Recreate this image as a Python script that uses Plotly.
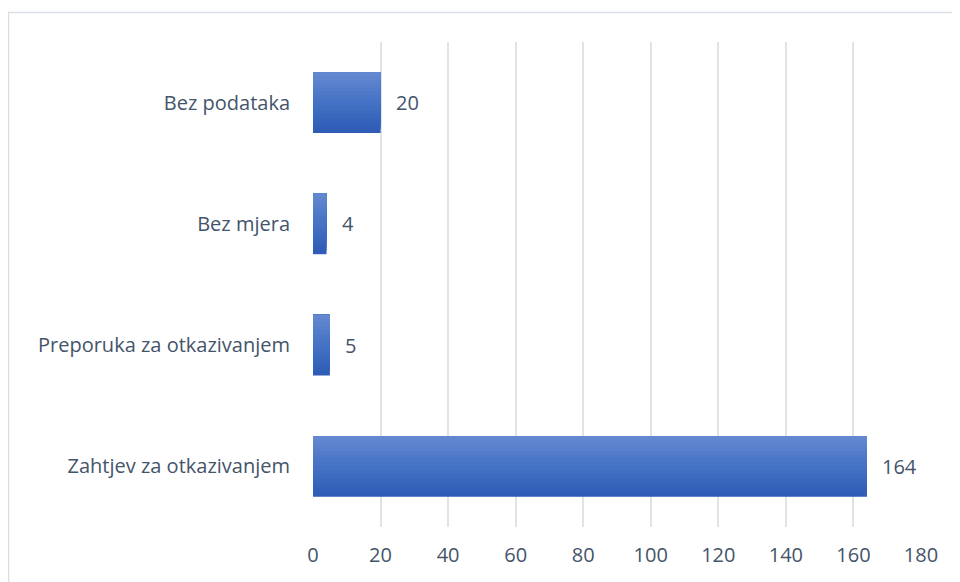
import plotly.graph_objects as go

categories = ["Zahtjev za otkazivanjem", "Preporuka za otkazivanjem", "Bez mjera", "Bez podataka"]
values = [164, 5, 4, 20]
x_ticks = [0, 20, 40, 60, 80, 100, 120, 140, 160, 180]

TEXT = "#44546A"
FONT = "Open Sans"
FS = 20

# vertical gradient emulated by overlapping slices (light top -> dark bottom)
top = (0x63, 0x88, 0xCF)
mid = (0x44, 0x72, 0xC4)
bot = (0x2E, 0x5C, 0xB6)
n = 16
bar_w = 0.5
fig = go.Figure()
for i in range(n):
    t = i / (n - 1)  # 0 bottom -> 1 top
    if t < 0.5:
        a, b, s = bot, mid, t / 0.5
    else:
        a, b, s = mid, top, (t - 0.5) / 0.5
    c = tuple(round(a[k] + (b[k] - a[k]) * s) for k in range(3))
    col = "rgb(%d,%d,%d)" % c
    w = bar_w / n
    fig.add_trace(go.Bar(
        x=values, y=categories, orientation="h",
        width=bar_w - i * w, offset=-bar_w / 2 + i * w,
        marker=dict(color=col, line=dict(width=0)),
        hoverinfo="skip", showlegend=False,
    ))

for v, c in zip(values, categories):
    fig.add_annotation(x=v, y=c, text=str(v), showarrow=False,
                       xanchor="left", xshift=13,
                       font=dict(family=FONT, size=FS, color=TEXT))

fig.add_shape(type="rect", xref="paper", yref="paper",
              x0=-0.5008, x1=1.3, y0=-0.3, y1=1.0608,
              line=dict(color="#D9DEE5", width=1.5), fillcolor="rgba(0,0,0,0)",
              layer="below")

fig.update_layout(
    width=952, height=574,
    margin=dict(l=305, r=39, t=34, b=55),
    paper_bgcolor="white", plot_bgcolor="white",
    barmode="overlay",
    font=dict(family=FONT, size=FS, color=TEXT),
    xaxis=dict(range=[0, 180], tickvals=x_ticks, showgrid=True,
               gridcolor="#DFE3EA", gridwidth=2, zeroline=False,
               showline=False, ticks="", ticklabelstandoff=14,
               tickfont=dict(family=FONT, size=FS, color=TEXT)),
    yaxis=dict(categoryorder="array", categoryarray=categories,
               showgrid=False, zeroline=False, showline=False,
               ticks="", ticklabelstandoff=22,
               tickfont=dict(family=FONT, size=FS, color=TEXT)),
)

fig.write_html("out.html")
